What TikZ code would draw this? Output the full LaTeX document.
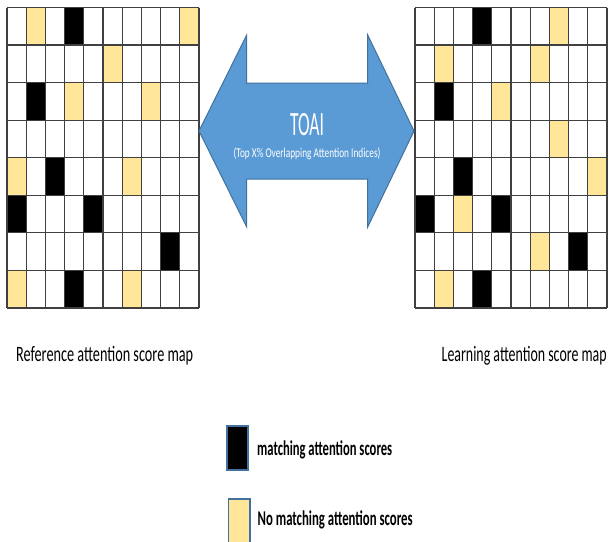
\documentclass[tikz,border=0pt]{standalone}
\usepackage{graphicx}
\usepackage{fontspec}
\setmainfont{Carlito}
\definecolor{gold}{HTML}{FFE699}
\definecolor{arrowblue}{HTML}{5B9BD5}
\definecolor{edgeblue}{HTML}{41719C}
\definecolor{gridgray}{HTML}{404040}
% text set at a given size and stretched to a given width
\newcommand{\fittext}[3]{\resizebox{#1pt}{\height}{\fontsize{#2}{#2}\selectfont #3}}
\begin{document}
\begin{tikzpicture}[x=1pt,y=-1pt,
  gridline/.style={draw=gridgray,line width=1.3pt},
  label/.style={inner sep=0pt,anchor=base west,text=black},
  legendbox/.style={draw=edgeblue,line width=1.4pt}]
\useasboundingbox (0,0) rectangle (609,541);
\fill[white] (0,0) rectangle (609,541);
\def\cw{19.2}
\def\rh{37.55}
\def\ytop{7.5}
% left map: cells
\begin{scope}[shift={(7,\ytop)}]
  \foreach \r/\c in {0/3,2/1,4/2,5/0,5/4,6/8,7/3}
    \fill[black] (\c*\cw,\r*\rh) rectangle ++(\cw,\rh);
  \foreach \r/\c in {0/1,0/9,1/5,2/3,2/7,4/0,4/6,7/0,7/6}
    \fill[gold] (\c*\cw,\r*\rh) rectangle ++(\cw,\rh);
  \foreach \c in {0,...,10}
    \draw[gridline] (\c*\cw,0) -- (\c*\cw,8*\rh);
  \foreach \r in {0,...,8}
    \draw[gridline] (0,\r*\rh) -- (10*\cw,\r*\rh);
\end{scope}
% right map: cells
\begin{scope}[shift={(415,\ytop)}]
  \foreach \r/\c in {0/3,2/1,4/2,5/0,5/4,6/8,7/3}
    \fill[black] (\c*\cw,\r*\rh) rectangle ++(\cw,\rh);
  \foreach \r/\c in {0/7,1/1,1/6,2/4,3/7,4/9,5/2,6/6,7/1}
    \fill[gold] (\c*\cw,\r*\rh) rectangle ++(\cw,\rh);
  \foreach \c in {0,...,10}
    \draw[gridline] (\c*\cw,0) -- (\c*\cw,8*\rh);
  \foreach \r in {0,...,8}
    \draw[gridline] (0,\r*\rh) -- (10*\cw,\r*\rh);
\end{scope}
% double arrow between the maps
\draw[fill=arrowblue,draw=edgeblue,line width=1pt,line join=miter]
  (199,131) -- (246.7,35) -- (246.7,83) -- (367.7,83) -- (367.7,35) -- (414,131)
  -- (367.7,227) -- (367.7,179) -- (246.7,179) -- (246.7,227) -- cycle;
\node[inner sep=0pt,anchor=base,text=white] (toai) at (307,135.5)
  {\fittext{34}{34}{TOAI}};
\node[inner sep=0pt,anchor=base,text=white] (toaisub) at (307,157.5)
  {\fittext{147}{13.4}{(Top X\% Overlapping Attention Indices)}};
% captions under the maps
\node[label] (reflabel) at (16,361.5)
  {\fittext{177}{22}{Reference attention score map}};
\node[label] (learnlabel) at (441.5,361.5)
  {\fittext{165}{22}{Learning attention score map}};
% legend
\draw[legendbox,fill=black] (227,426) rectangle (248,470);
\node[label] (matchtext) at (257,455.5)
  {\fittext{135}{21}{\bfseries matching attention scores}};
\draw[legendbox,fill=gold] (228.5,499) rectangle (250,545);
\node[label] (nomatchtext) at (257.5,525.5)
  {\fittext{155}{21}{\bfseries No matching attention scores}};
\end{tikzpicture}
\end{document}
